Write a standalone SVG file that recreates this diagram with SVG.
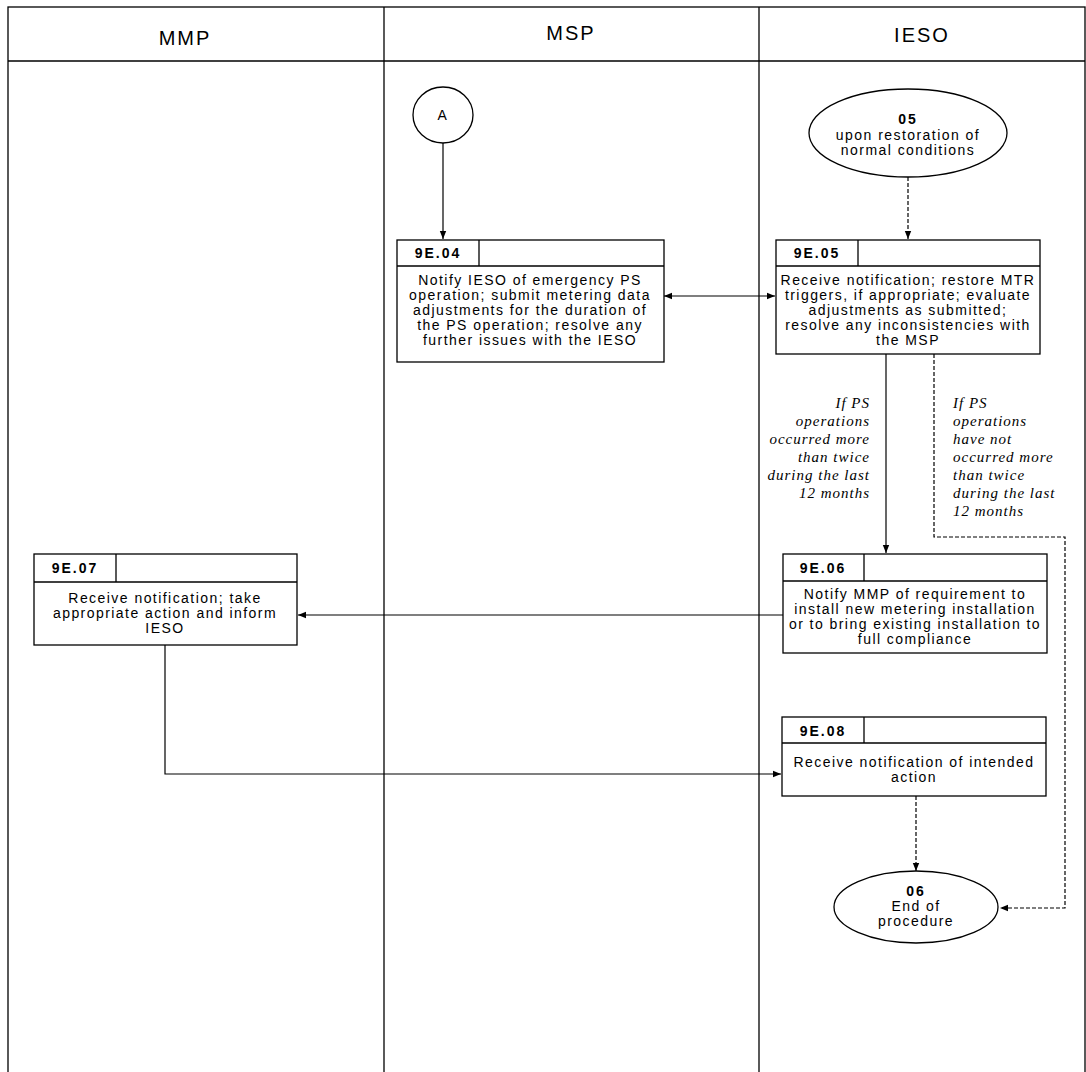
<svg xmlns="http://www.w3.org/2000/svg" width="1086" height="1072" viewBox="0 0 1086 1072">
<style>
.lane{fill:none;stroke:#000;stroke-width:1.3}
.hd{font-family:"Liberation Sans",Arial,sans-serif;font-size:20px;text-anchor:middle;fill:#000;letter-spacing:2px}
.box{fill:#fff;stroke:#000;stroke-width:1.3}
.t{font-family:"Liberation Sans",Arial,sans-serif;font-size:14px;text-anchor:middle;fill:#000;letter-spacing:1.45px}
.id{font-family:"Liberation Sans",Arial,sans-serif;font-size:14px;font-weight:bold;text-anchor:middle;fill:#000;letter-spacing:2px}
.lbl{font-family:"Liberation Serif","Times New Roman",serif;font-size:15px;font-style:italic;fill:#000;letter-spacing:1px}
.c{fill:none;stroke:#000;stroke-width:1.2}
.d{fill:none;stroke:#000;stroke-width:1.2;stroke-dasharray:4 2}
</style>
<defs>
<marker id="ah" viewBox="0 0 10 10" refX="10" refY="5" markerWidth="8" markerHeight="8" markerUnits="userSpaceOnUse" orient="auto-start-reverse">
<path d="M0,1 L10,5 L0,9 z" fill="#000"/>
</marker>
</defs>
<rect width="1086" height="1072" fill="#fff"/>
<g id="lanes">
<rect class="lane" x="8" y="7" width="1077" height="1070"/>
<line class="lane" x1="8" y1="61" x2="1085" y2="61"/>
<line class="lane" x1="384" y1="7" x2="384" y2="1072"/>
<line class="lane" x1="759" y1="7" x2="759" y2="1072"/>
<text class="hd" x="185" y="45">MMP</text>
<text class="hd" x="571" y="40">MSP</text>
<text class="hd" x="922" y="42">IESO</text>
</g>
<g id="connectors">
<line class="c" x1="443" y1="143" x2="443" y2="239" marker-end="url(#ah)"/>
<line class="d" x1="908" y1="177" x2="908" y2="239" marker-end="url(#ah)"/>
<line class="c" x1="664" y1="296" x2="775" y2="296" marker-start="url(#ah)" marker-end="url(#ah)"/>
<line class="c" x1="886" y1="354" x2="886" y2="553" marker-end="url(#ah)"/>
<polyline class="d" points="934,354 934,537 1065,537 1065,908 1000,908" marker-end="url(#ah)"/>
<line class="c" x1="783" y1="615" x2="298" y2="615" marker-end="url(#ah)"/>
<polyline class="c" points="165,645 165,774 781,774" marker-end="url(#ah)"/>
<line class="d" x1="916" y1="796" x2="916" y2="871" marker-end="url(#ah)"/>
</g>
<g id="A">
<ellipse class="box" cx="443" cy="115" rx="30" ry="28"/>
<text class="t" x="443" y="120">A</text>
</g>
<g id="n05">
<ellipse class="box" cx="908" cy="133" rx="99" ry="44"/>
<text class="id" x="908" y="124">05</text>
<text class="t" x="908" y="140">upon restoration of</text>
<text class="t" x="908" y="155">normal conditions</text>
</g>
<g id="n9E04">
<rect class="box" x="397" y="240" width="267" height="122"/>
<line class="box" x1="397" y1="266" x2="664" y2="266"/>
<line class="box" x1="479" y1="240" x2="479" y2="266"/>
<text class="id" x="438" y="258">9E.04</text>
<text class="t" x="530" y="285">Notify IESO of emergency PS</text>
<text class="t" x="530" y="300">operation; submit metering data</text>
<text class="t" x="530" y="315">adjustments for the duration of</text>
<text class="t" x="530" y="330">the PS operation; resolve any</text>
<text class="t" x="530" y="345">further issues with the IESO</text>
</g>
<g id="n9E05">
<rect class="box" x="776" y="240" width="264" height="114"/>
<line class="box" x1="776" y1="266" x2="1040" y2="266"/>
<line class="box" x1="858" y1="240" x2="858" y2="266"/>
<text class="id" x="817" y="258">9E.05</text>
<text class="t" x="908" y="285">Receive notification; restore MTR</text>
<text class="t" x="908" y="300">triggers, if appropriate; evaluate</text>
<text class="t" x="908" y="315">adjustments as submitted;</text>
<text class="t" x="908" y="330">resolve any inconsistencies with</text>
<text class="t" x="908" y="345">the MSP</text>
</g>
<g id="labels">
<text class="lbl" text-anchor="end" x="870" y="408">If PS</text>
<text class="lbl" text-anchor="end" x="870" y="426">operations</text>
<text class="lbl" text-anchor="end" x="870" y="444">occurred more</text>
<text class="lbl" text-anchor="end" x="870" y="462">than twice</text>
<text class="lbl" text-anchor="end" x="870" y="480">during the last</text>
<text class="lbl" text-anchor="end" x="870" y="498">12 months</text>
<text class="lbl" x="953" y="408">If PS</text>
<text class="lbl" x="953" y="426">operations</text>
<text class="lbl" x="953" y="444">have not</text>
<text class="lbl" x="953" y="462">occurred more</text>
<text class="lbl" x="953" y="480">than twice</text>
<text class="lbl" x="953" y="498">during the last</text>
<text class="lbl" x="953" y="516">12 months</text>
</g>
<g id="n9E06">
<rect class="box" x="783" y="554" width="264" height="99"/>
<line class="box" x1="783" y1="581" x2="1047" y2="581"/>
<line class="box" x1="864" y1="554" x2="864" y2="581"/>
<text class="id" x="823" y="573">9E.06</text>
<text class="t" x="915" y="599">Notify MMP of requirement to</text>
<text class="t" x="915" y="614">install new metering installation</text>
<text class="t" x="915" y="629">or to bring existing installation to</text>
<text class="t" x="915" y="644">full compliance</text>
</g>
<g id="n9E07">
<rect class="box" x="34" y="554" width="263" height="91"/>
<line class="box" x1="34" y1="582" x2="297" y2="582"/>
<line class="box" x1="116" y1="554" x2="116" y2="582"/>
<text class="id" x="75" y="573">9E.07</text>
<text class="t" x="165" y="603">Receive notification; take</text>
<text class="t" x="165" y="618">appropriate action and inform</text>
<text class="t" x="165" y="633">IESO</text>
</g>
<g id="n9E08">
<rect class="box" x="782" y="717" width="264" height="79"/>
<line class="box" x1="782" y1="743" x2="1046" y2="743"/>
<line class="box" x1="864" y1="717" x2="864" y2="743"/>
<text class="id" x="823" y="736">9E.08</text>
<text class="t" x="914" y="767">Receive notification of intended</text>
<text class="t" x="914" y="782">action</text>
</g>
<g id="n06">
<ellipse class="box" cx="916" cy="907" rx="82" ry="36"/>
<text class="id" x="916" y="896">06</text>
<text class="t" x="916" y="911">End of</text>
<text class="t" x="916" y="926">procedure</text>
</g>
</svg>
